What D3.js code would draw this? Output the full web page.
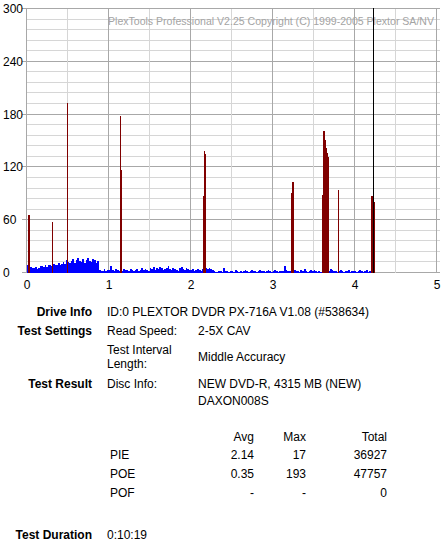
<!DOCTYPE html>
<html><head><meta charset="utf-8">
<script src="https://cdn.jsdelivr.net/npm/d3@7"></script>
<style>
html,body{margin:0;padding:0;background:#fff;}
svg{display:block;font-family:"Liberation Sans",Arial,sans-serif;}
</style></head>
<body><div id="chart"></div>
<script>
// ---- data ----
const xTicks = [0, 1, 2, 3, 4, 5];
const yTicks = [0, 60, 120, 180, 240, 300];
const pieStep = 0.02; // GB per PIE sample
const pieValues = [
  // 0.00 - 0.48
  8,6,6,5,5,6,4,5,7,7,6,8,6,9,8,7,10,9,8,11,9,10,12,10,14,
  // 0.50 - 0.98
  12,11,13,15,11,14,17,13,12,15,11,14,16,13,12,15,14,11,13,3,2,2,4,2,3,
  // 1.00 - 1.48
  3,7,3,2,4,3,2,3,2,4,3,3,2,4,3,2,3,4,2,3,5,3,4,3,2,
  // 1.50 - 1.98
  5,4,6,3,5,4,6,5,3,4,5,7,4,3,5,4,3,2,5,6,4,3,5,4,3,
  // 2.00 - 2.48
  3,4,2,3,4,3,2,4,5,5,4,5,4,3,2,1,1,2,2,1,5,2,2,1,2,
  // 2.50 - 2.98
  2,1,3,2,1,2,1,2,3,2,1,2,3,2,2,1,2,3,2,2,1,2,3,2,1,
  // 3.00 - 3.48
  2,3,2,1,2,2,2,7,3,2,2,1,2,3,2,2,1,3,2,4,2,1,2,3,2,
  // 3.50 - 3.98
  3,2,1,2,1,2,3,2,1,2,4,3,2,2,1,2,3,2,1,2,2,3,1,2,2,
  // 4.00 - 4.22
  2,1,2,3,2,1,2,3,1,2,1,2
];
const poePositions = [0.015, 0.027, 0.31, 0.49, 1.135, 1.147, 2.152, 2.165, 2.177,
  3.228, 3.240, 3.250, 3.605, 3.617, 3.629, 3.641, 3.653, 3.665, 3.677, 3.80, 4.205, 4.217, 4.229];
const poeValues = [65, 65, 57, 193, 178, 116, 87, 138, 135,
  90, 103, 103, 88, 161, 161, 151, 142, 136, 131, 94, 87, 84, 80];
const endMarker = 4.237;
const watermark = "PlexTools Professional V2.25 Copyright (C) 1999-2005 Plextor SA/NV";

const infoRows = [
  {label: "Drive Info", cells: [["ID:0 PLEXTOR DVDR PX-716A V1.08 (#538634)", 0]]},
];
const statHeaders = ["Avg", "Max", "Total"];
const statNames = ["PIE", "POE", "POF"];
const statAvg = ["2.14", "0.35", "-"];
const statMax = ["17", "193", "-"];
const statTotal = ["36927", "47757", "0"];
const testDuration = "0:10:19";

// ---- chart ----
const W = 443, H = 542;
const svg = d3.select("#chart").append("svg").attr("width", W).attr("height", H);
const x = d3.scaleLinear().domain([0, 5]).range([26.5, 436.5]);
const y = d3.scaleLinear().domain([0, 300]).range([272.5, 8.5]);
const snap = v => Math.floor(v) + 0.5;

const grid = svg.append("g").attr("shape-rendering", "crispEdges");
// horizontal grid every 12
d3.range(0, 301, 12).forEach(v => {
  const major = v % 60 === 0;
  grid.append("line").attr("x1", major ? 22 : x(0)).attr("x2", x(5) + 3)
    .attr("y1", snap(y(v))).attr("y2", snap(y(v)))
    .attr("stroke", major ? "#a8a8a8" : "#d6d6d6").attr("stroke-width", 1);
});
// vertical grid every 0.5
d3.range(0, 5.01, 0.5).forEach(v => {
  const major = Math.abs(v - Math.round(v)) < 1e-6;
  grid.append("line").attr("x1", snap(x(v))).attr("x2", snap(x(v)))
    .attr("y1", y(300)).attr("y2", y(0))
    .attr("stroke", major ? "#a8a8a8" : "#d6d6d6").attr("stroke-width", 1);
});

// watermark
svg.append("text").attr("x", 108).attr("y", 25).attr("fill", "#a4a4a4")
  .attr("font-size", 10.6).attr("textLength", 326).attr("lengthAdjust", "spacingAndGlyphs")
  .text(watermark);

// axis labels
svg.append("g").selectAll("text").data(yTicks).join("text")
  .attr("x", 3).attr("y", d => y(d) + 4.5).attr("font-size", 12).attr("fill", "#000")
  .text(d => d);
svg.append("g").selectAll("text").data(xTicks).join("text")
  .attr("x", d => x(d) + 0.5).attr("y", 289).attr("text-anchor", "middle")
  .attr("font-size", 12).attr("fill", "#000").text(d => d);

// PIE bars
const bars = svg.append("g").attr("shape-rendering", "crispEdges");
bars.selectAll("rect.pie").data(pieValues).join("rect").attr("class", "pie")
  .attr("x", (d, i) => x(i * pieStep))
  .attr("width", (d, i) => x((i + 1) * pieStep) - x(i * pieStep) + 0.2)
  .attr("y", d => y(d)).attr("height", d => y(0) - y(d) + 0.5)
  .attr("fill", "#0000ff");

// POE bars
const poe = poePositions.map((p, i) => ({p, v: poeValues[i]}));
bars.selectAll("rect.poe").data(poe).join("rect").attr("class", "poe")
  .attr("x", d => x(d.p)).attr("width", 1.3)
  .attr("y", d => y(d.v)).attr("height", d => y(0) - y(d.v) + 0.5)
  .attr("fill", "#800000");

// end marker
svg.append("line").attr("x1", snap(x(endMarker))).attr("x2", snap(x(endMarker)))
  .attr("y1", y(300) - 0.5).attr("y2", y(0)).attr("stroke", "#000").attr("stroke-width", 1)
  .attr("shape-rendering", "crispEdges");

// ---- info table ----
const info = svg.append("g").attr("font-size", 12).attr("fill", "#000");
function lab(t, yy) { info.append("text").attr("x", 92).attr("y", yy).attr("text-anchor", "end").attr("font-weight", "bold").text(t); }
function txt(t, xx, yy, anchor) { info.append("text").attr("x", xx).attr("y", yy).attr("text-anchor", anchor || "start").text(t); }

lab("Drive Info", 316); txt(infoRows[0].cells[0][0], 107, 316);
lab("Test Settings", 335); txt("Read Speed:", 107, 335); txt("2-5X CAV", 198, 335);
txt("Test Interval", 107, 354); txt("Length:", 107, 368); txt("Middle Accuracy", 198, 361);
lab("Test Result", 388); txt("Disc Info:", 107, 388); txt("NEW DVD-R, 4315 MB (NEW)", 198, 388); txt("DAXON008S", 198, 405);

const colX = [254, 306, 387];
statHeaders.forEach((h, i) => txt(h, colX[i], 441, "end"));
statNames.forEach((n, r) => {
  const yy = 459 + r * 19;
  txt(n, 110, yy);
  txt(statAvg[r], colX[0], yy, "end");
  txt(statMax[r], colX[1], yy, "end");
  txt(statTotal[r], colX[2], yy, "end");
});
lab("Test Duration", 539); txt(testDuration, 107, 539);
</script></body></html>
